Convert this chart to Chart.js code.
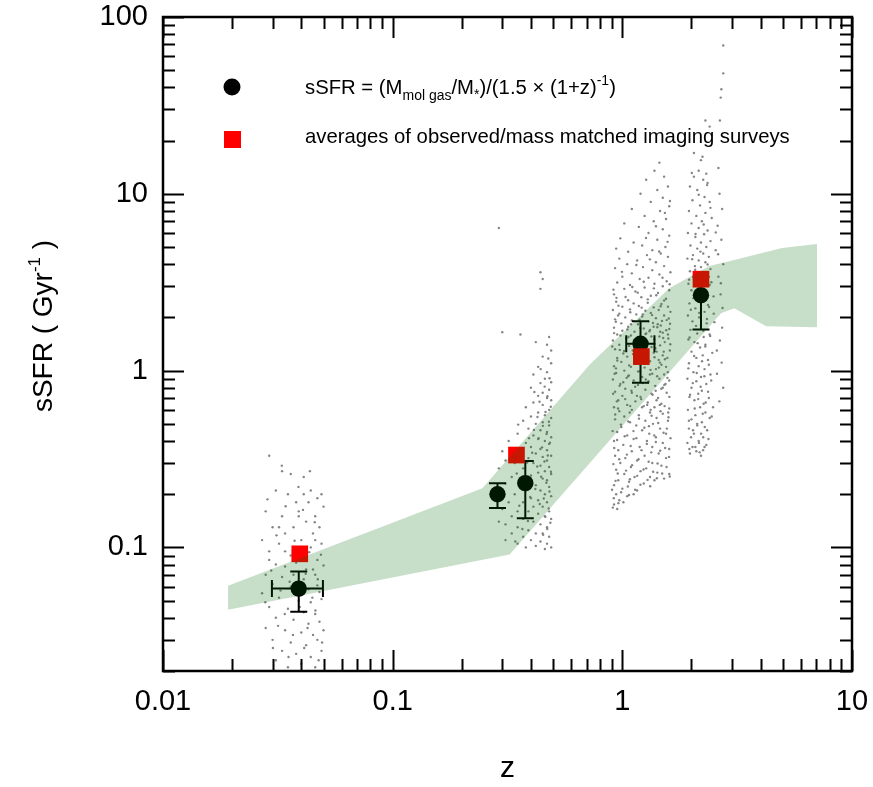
<!DOCTYPE html>
<html>
<head>
<meta charset="utf-8">
<script src="https://cdn.jsdelivr.net/npm/chart.js@4.4.1/dist/chart.umd.min.js"></script>
<style>
  html, body { margin: 0; padding: 0; background: #fff; }
  #wrap { width: 873px; height: 787px; }
</style>
</head>
<body>
<div id="wrap"><canvas id="chart" width="873" height="787"></canvas></div>
<script>
const FONT = "'Liberation Sans', Arial, Helvetica, sans-serif";

// Axis tick labels
const xTicks = [0.01, 0.1, 1, 10];
const yTicks = [0.1, 1, 10, 100];

// sSFR from molecular gas fractions (black circles) with error ranges
const circleZ   = [0.039, 0.286, 0.378, 1.2, 2.2];
const circleS   = [0.0585, 0.2, 0.231, 1.42, 2.67];
const circleSLo = [0.0433, 0.167, 0.146, 0.855, 1.71];
const circleSHi = [0.073, 0.231, 0.308, 1.9, 3.4];
const circleZLo = [0.0298, null, null, 1.04, null];
const circleZHi = [0.0497, null, null, 1.38, null];

// survey averages (red squares)
const squareZ = [0.0394, 0.346, 1.21, 2.2];
const squareS = [0.092, 0.333, 1.2, 3.29];

// shaded band: upper edge left->right, lower edge right->left
const bandUpperZ = [0.0192, 0.246, 0.72, 1.6, 2.39, 2.92, 4.96, 7.04];
const bandUpperS = [0.0608, 0.216, 1.08, 2.92, 3.9, 4.16, 4.93, 5.2];
const bandLowerZ = [7.04, 4.23, 3.07, 2.69, 0.323, 0.0192];
const bandLowerS = [1.76, 1.78, 2.25, 2.11, 0.0912, 0.0444];

// individual galaxies, [z, sSFR]
const localDots = [
  [0.029,0.33],[0.033,0.27],[0.036,0.26],[0.041,0.25],[0.044,0.21],[0.047,0.19],[0.031,0.21],[0.035,0.2],
  [0.038,0.18],[0.043,0.18],[0.049,0.2],[0.05,0.17],[0.028,0.16],[0.033,0.15],[0.039,0.15],[0.042,0.14],
  [0.046,0.15],[0.03,0.13],[0.034,0.12],[0.037,0.13],[0.045,0.12],[0.048,0.13],[0.027,0.11],[0.032,0.105],
  [0.04,0.11],[0.044,0.1],[0.049,0.105],[0.029,0.095],[0.036,0.09],[0.042,0.088],[0.047,0.085],[0.031,0.08],
  [0.034,0.078],[0.038,0.082],[0.045,0.075],[0.05,0.079],[0.028,0.07],[0.033,0.068],[0.041,0.066],[0.046,0.07],
  [0.03,0.062],[0.036,0.06],[0.043,0.058],[0.048,0.056],[0.027,0.055],[0.032,0.052],[0.039,0.05],[0.044,0.049],
  [0.049,0.051],[0.029,0.046],[0.035,0.045],[0.041,0.043],[0.046,0.042],[0.031,0.04],[0.037,0.039],[0.043,0.037],
  [0.048,0.038],[0.028,0.035],[0.034,0.034],[0.04,0.033],[0.045,0.032],[0.05,0.034],[0.03,0.03],[0.036,0.029],
  [0.042,0.028],[0.047,0.03],[0.033,0.026],[0.038,0.025],[0.044,0.024],[0.049,0.026],[0.031,0.023],[0.04,0.022],
  [0.046,0.021],[0.035,0.021],[0.043,0.02],[0.039,0.16],[0.041,0.2],[0.034,0.095],[0.046,0.11],[0.037,0.07],
  [0.032,0.13],[0.047,0.061],[0.029,0.085],[0.042,0.075],
  [0.0285,0.187],[0.0342,0.171],[0.0407,0.163],[0.0458,0.139],[0.0312,0.117],[0.0374,0.109],[0.0433,0.094],
  [0.0487,0.091],[0.0296,0.074],[0.0356,0.064],[0.0418,0.071],[0.0472,0.066],[0.0325,0.057],[0.0383,0.054],
  [0.0447,0.052],[0.0279,0.049],[0.0339,0.042],[0.0394,0.046],[0.0461,0.044],[0.0317,0.036],[0.0368,0.032],
  [0.0426,0.035],[0.0493,0.029],[0.0301,0.027],[0.0352,0.024],[0.0412,0.027],[0.0476,0.023],[0.0389,0.22],
  [0.0436,0.27],[0.0329,0.29]
];

const midDots = [
  [0.29,6.4],[0.3,1.65],[0.36,1.6],
  [0.44,3.6],[0.45,3.3],[0.44,2.9],[0.48,1.55],[0.47,1.4],[0.49,1.3],[0.42,1.45],[0.45,1.2],[0.49,1.1],
  [0.43,1.05],[0.47,0.98],[0.41,0.95],[0.46,0.9],[0.49,0.86],[0.44,0.85],[0.4,0.8],[0.48,0.78],[0.45,0.75],
  [0.43,0.72],[0.47,0.7],[0.49,0.68],[0.41,0.66],[0.45,0.64],[0.38,0.62],[0.48,0.6],[0.43,0.58],[0.46,0.56],
  [0.4,0.55],[0.49,0.54],
  [0.37,0.52],[0.42,0.5],[0.45,0.51],[0.48,0.49],[0.39,0.47],[0.44,0.46],[0.47,0.45],[0.35,0.44],[0.41,0.43],
  [0.49,0.42],[0.43,0.41],[0.46,0.4],[0.38,0.39],[0.48,0.385],[0.4,0.37],[0.44,0.36],[0.47,0.355],[0.36,0.35],
  [0.42,0.34],[0.49,0.33],[0.45,0.325],[0.39,0.32],[0.47,0.31],[0.34,0.3],[0.41,0.3],[0.44,0.29],[0.48,0.285],
  [0.37,0.28],[0.46,0.27],[0.43,0.265],[0.49,0.26],[0.4,0.255],[0.33,0.25],[0.45,0.245],[0.47,0.24],
  [0.31,0.23],[0.36,0.23],[0.42,0.225],[0.48,0.22],[0.38,0.21],[0.44,0.21],[0.3,0.2],[0.34,0.2],[0.46,0.2],
  [0.49,0.195],[0.4,0.19],[0.43,0.185],[0.32,0.18],[0.37,0.18],[0.47,0.18],[0.45,0.17],[0.41,0.17],[0.3,0.165],
  [0.35,0.16],[0.39,0.16],[0.48,0.16],[0.43,0.155],[0.46,0.15],[0.33,0.15],[0.37,0.145],[0.41,0.14],[0.49,0.145],
  [0.44,0.135],[0.31,0.135],[0.35,0.13],[0.47,0.13],[0.39,0.125],[0.42,0.12],[0.45,0.12],[0.33,0.12],[0.37,0.115],
  [0.48,0.115],[0.4,0.11],[0.44,0.108],[0.31,0.11],[0.35,0.105],[0.47,0.105],[0.42,0.102],[0.38,0.1],[0.46,0.098],
  [0.49,0.1],[0.29,0.28],[0.3,0.35],[0.32,0.4],[0.29,0.14],[0.31,0.31],
  [0.452,0.118],[0.471,0.127],[0.486,0.138],[0.462,0.149],[0.478,0.166],[0.437,0.176],[0.455,0.189],[0.482,0.207],
  [0.418,0.214],[0.467,0.232],[0.443,0.251],[0.489,0.268],[0.426,0.287],[0.458,0.306],[0.474,0.331],[0.405,0.343],
  [0.447,0.368],[0.484,0.391],[0.432,0.415],[0.468,0.438],[0.412,0.462],[0.451,0.487],[0.479,0.514],[0.427,0.547],
  [0.463,0.583],[0.488,0.624],[0.436,0.667],[0.472,0.716],[0.414,0.757],[0.459,0.812],[0.482,0.905],[0.441,1.02],
  [0.476,1.17],[0.342,0.108],[0.367,0.127],[0.388,0.141],[0.356,0.172],[0.397,0.193],[0.375,0.218],[0.347,0.262],
  [0.385,0.302],[0.363,0.356],[0.392,0.415],[0.352,0.495]
];

const z1Dots = [
  [1.45,15],[1.38,13.5],[1.52,12.5],[1.27,12],[1.58,11],[1.42,10.5],[1.2,10],[1.5,9.5],[1.33,9],[1.6,8.5],
  [1.1,8.2],[1.46,8],[1.25,7.5],[1.55,7.2],[1.37,7],[1.02,6.8],[1.18,6.5],[1.5,6.3],[1.3,6],[1.6,5.8],
  [0.98,5.6],[1.42,5.5],[1.12,5.3],[1.22,5.1],[1.54,5],[0.94,4.9],[1.35,4.8],[1.06,4.7],
  [1.47,4.6],[1.28,4.5],[1.58,4.4],[0.97,4.3],[1.16,4.2],[1.4,4.1],[1.05,4],[1.52,3.9],[1.23,3.85],[0.93,3.8],
  [1.35,3.7],[1.62,3.6],[1.1,3.55],[1.45,3.5],[1.0,3.4],[1.3,3.35],[1.19,3.3],[1.56,3.2],[0.95,3.15],[1.38,3.1],
  [1.08,3.05],[1.5,3.0],[1.25,2.95],[1.02,2.9],[1.6,2.85],[1.14,2.8],[1.43,2.75],[0.92,2.7],[1.33,2.65],[1.21,2.6],
  [1.55,2.55],[1.06,2.5],
  [0.94,2.45],[1.12,2.4],[1.29,2.42],[1.48,2.38],[1.0,2.3],[1.18,2.32],[1.37,2.28],[1.58,2.3],[0.91,2.2],[1.08,2.22],
  [1.26,2.18],[1.44,2.2],[1.62,2.15],[0.97,2.1],[1.15,2.08],[1.33,2.12],[1.52,2.05],[1.03,2.0],[1.22,2.02],[1.4,1.98],
  [0.93,1.95],[1.1,1.92],[1.3,1.9],[1.56,1.93],[0.99,1.85],[1.17,1.83],[1.36,1.86],[1.47,1.8],[0.92,1.75],[1.06,1.77],
  [1.24,1.73],[1.42,1.76],[1.6,1.72],[1.0,1.68],[1.13,1.66],[1.32,1.7],[1.5,1.64],[0.95,1.6],[1.09,1.58],[1.27,1.62],
  [1.45,1.56],[1.58,1.6],[1.04,1.52],[1.2,1.54],[1.38,1.5],
  [0.91,1.48],[1.15,1.46],[1.29,1.44],[1.53,1.45],[0.97,1.4],[1.07,1.38],[1.34,1.36],[1.46,1.39],[0.93,1.32],[1.11,1.3],
  [1.23,1.33],[1.41,1.28],[1.61,1.3],[1.01,1.25],[1.18,1.23],[1.37,1.26],[1.5,1.22],[0.95,1.18],[1.05,1.2],[1.28,1.17],
  [1.44,1.15],[1.57,1.18],[0.99,1.12],[1.14,1.1],[1.32,1.13],[1.48,1.08],[0.92,1.06],[1.09,1.05],[1.25,1.04],[1.4,1.02],
  [1.55,1.05],[1.02,1.0],[1.19,0.99],
  [0.94,0.97],[1.35,0.96],[1.52,0.95],[1.06,0.93],[1.22,0.92],[1.45,0.9],[0.91,0.89],[1.12,0.88],[1.3,0.87],[1.6,0.88],
  [0.98,0.84],[1.17,0.83],[1.39,0.82],[1.5,0.8],[1.03,0.79],[1.26,0.78],[0.93,0.76],[1.1,0.75],[1.34,0.74],[1.56,0.75],
  [1.0,0.72],[1.2,0.71],[1.43,0.7],[0.96,0.68],[1.14,0.67],[1.29,0.66],[1.48,0.65],[1.05,0.64],[1.24,0.63],[1.38,0.62],
  [0.92,0.62],[1.6,0.61],[1.1,0.6],
  [0.97,0.59],[1.32,0.58],[1.5,0.57],[1.18,0.56],[1.02,0.55],[1.41,0.54],[0.93,0.53],[1.26,0.52],[1.58,0.52],[1.08,0.51],
  [1.36,0.5],[1.15,0.49],[0.99,0.48],[1.46,0.47],[1.22,0.46],[0.95,0.45],[1.31,0.44],[1.55,0.44],[1.05,0.43],[1.4,0.42],
  [1.12,0.41],[0.92,0.4],[1.28,0.4],[1.5,0.39],[1.01,0.38],[1.19,0.37],[1.35,0.37],[1.6,0.36],[0.96,0.355],[1.1,0.35],
  [1.44,0.34],[1.25,0.33],[0.93,0.33],[1.03,0.32],[1.55,0.32],[1.16,0.31],[1.35,0.3],[0.98,0.3],[1.48,0.29],[1.09,0.285],
  [1.27,0.28],[0.94,0.275],[1.2,0.27],[1.42,0.265],[1.02,0.26],[1.6,0.26],[1.13,0.25],[1.32,0.25],[0.96,0.24],[1.52,0.245],
  [1.07,0.235],[1.24,0.23],[0.92,0.225],[1.38,0.24],[1.0,0.215],[1.16,0.21],[0.94,0.2],[1.05,0.195],[1.12,0.2],[0.97,0.185],
  [0.92,0.175],[1.01,0.18],[0.95,0.165],
  [0.915,2.87],[1.033,2.61],[1.167,2.76],[1.291,2.53],[1.405,2.67],[1.521,2.49],[0.962,2.33],[1.083,2.14],[1.214,2.27],
  [1.347,2.06],[1.468,2.31],[1.593,1.97],[0.937,1.89],[1.052,1.71],[1.188,1.94],[1.312,1.67],[1.426,1.83],[1.552,1.69],
  [0.981,1.58],[1.124,1.49],[1.262,1.61],[1.383,1.42],[1.507,1.53],[1.617,1.41],[0.904,1.37],[1.018,1.29],[1.146,1.41],
  [1.273,1.21],[1.392,1.34],[1.533,1.16],[0.951,1.14],[1.071,1.07],[1.203,1.19],[1.326,1.01],[1.457,1.11],[1.578,0.98],
  [0.926,0.96],[1.044,0.91],[1.171,0.99],[1.297,0.86],[1.418,0.93],[1.541,0.84],[0.973,0.82],[1.096,0.77],[1.228,0.85],
  [1.354,0.73],[1.479,0.79],[1.602,0.71],[0.912,0.74],[1.029,0.69],[1.158,0.72],[1.283,0.64],[1.409,0.68],[1.528,0.63],
  [0.958,0.61],[1.077,0.58],[1.219,0.62],[1.341,0.555],[1.466,0.59],[1.589,0.545],[0.931,0.565],[1.061,0.515],[1.182,0.535],
  [1.306,0.485],[1.433,0.505],[1.563,0.47],[0.986,0.495],[1.118,0.455],[1.247,0.475],[1.377,0.43],[1.512,0.445],[1.621,0.415],
  [0.907,0.455],[1.024,0.425],[1.151,0.415],[1.278,0.385],[1.399,0.395],[1.536,0.365],[0.949,0.405],[1.087,0.375],[1.212,0.355],
  [1.336,0.345],[1.461,0.352],[1.597,0.325],[0.922,0.365],[1.047,0.335],[1.176,0.315],[1.302,0.305],[1.424,0.298],[1.558,0.285],
  [0.969,0.315],[1.103,0.292],[1.236,0.276],[1.362,0.268],[1.491,0.262],[1.609,0.252],[0.914,0.296],[1.038,0.272],[1.161,0.254],
  [1.288,0.241],[1.414,0.246],[0.955,0.262],[1.079,0.243],[1.199,0.226],[1.322,0.222],[0.934,0.238],[1.057,0.221],[1.137,0.212],
  [0.902,0.212],[0.988,0.205],[1.069,0.198],[0.918,0.19],[0.961,0.178],[0.909,0.168],
  [0.943,2.58],[1.105,2.97],[1.239,3.18],[1.372,2.92],[1.496,3.35],[1.607,3.08],[0.996,3.62],[1.151,3.96],[1.318,4.26],
  [1.447,4.72],[1.574,5.35],[1.268,5.62],[1.401,6.55],[1.532,7.8],[1.612,9.1],[0.958,2.05],[1.091,1.83],[1.227,2.08],
  [1.368,1.77],[1.488,1.91],[1.613,1.84],[0.921,1.63],[1.064,1.55],[1.196,1.74],[1.338,1.56],[1.461,1.66],[1.586,1.52],
  [0.975,1.31],[1.112,1.24],[1.249,1.36],[1.381,1.19],[1.514,1.28],[0.938,1.03],[1.067,0.94],[1.192,1.09],[1.318,0.95],
  [1.442,1.04],[1.571,0.91],[1.009,0.86],[1.137,0.81],[1.265,0.89],[1.397,0.77],[1.523,0.83],[0.947,0.67],[1.082,0.63],
  [1.208,0.69],[1.329,0.6],[1.456,0.64],[1.584,0.58]
];

const z2Dots = [
  [2.75,69],[2.75,48],[2.7,39],[2.68,35],[2.3,26],[2.4,24],[2.66,26],[2.05,17],[2.2,15.5],[2.62,14],[2.15,13.5],[2.32,13],
  [2.05,12.5],[2.25,12],[1.97,11],[2.35,11.5],[2.12,10.5],[2.65,10],[2.28,9.6],[2.02,9.2],[2.4,9],[2.18,8.6],[2.72,8.2],
  [1.95,8],[2.3,7.8],[2.1,7.5],[2.45,7.3],[2.22,7],[2.0,6.8],[2.6,6.6],[2.15,6.4],[2.35,6.2],[1.93,6],[2.27,5.9],
  [2.08,5.7],[2.7,5.5],[2.42,5.4],[2.2,5.3],[1.98,5.1],[2.32,5],[2.12,4.9],[2.55,4.8],
  [2.25,4.6],[2.03,4.5],[2.38,4.4],[1.92,4.3],[2.15,4.2],[2.3,4.1],[2.75,4.0],[2.07,3.9],[2.2,3.85],[2.42,3.75],
  [1.97,3.65],[2.12,3.55],[2.33,3.5],[2.62,3.4],[2.05,3.3],[2.25,3.2],[1.94,3.1],[2.4,3.05],[2.17,2.95],[2.0,2.85],
  [2.3,2.75],[2.68,2.7],[2.1,2.6],[2.22,2.5],[1.96,2.4],[2.36,2.35],[2.08,2.25],[2.28,2.15],[2.5,2.1],[1.93,2.05],
  [2.16,2.0],[2.02,1.9],[2.33,1.85],[2.2,1.8],[2.72,1.75],[1.98,1.7],[2.12,1.62],[2.4,1.6],[2.26,1.55],[1.94,1.5],
  [2.06,1.45],[2.3,1.4],[2.18,1.35],[2.58,1.3],[2.0,1.28],[2.24,1.22],[2.1,1.18],[2.36,1.15],[1.95,1.1],[2.15,1.06],
  [2.28,1.02],[2.04,0.98],[2.42,0.95],[2.2,0.92],[1.92,0.9],[2.1,0.87],[2.32,0.84],[2.75,0.8],[2.0,0.8],[2.22,0.77],
  [2.14,0.74],[1.96,0.71],[2.38,0.7],[2.06,0.68],[2.26,0.65],[2.18,0.62],[1.93,0.6],[2.3,0.58],[2.08,0.56],[2.45,0.55],
  [2.0,0.53],[2.22,0.51],[2.12,0.49],[1.95,0.47],[2.34,0.46],[2.05,0.44],[2.25,0.42],[2.15,0.4],[1.92,0.39],[2.02,0.37],
  [2.28,0.37],[2.1,0.35],[1.97,0.34],[2.2,0.33],
  [2.013,4.27],[2.187,4.71],[2.351,3.98],[2.076,3.72],[2.268,3.44],[2.442,3.16],[1.954,3.27],[2.134,2.91],[2.318,2.82],
  [2.495,2.63],[2.042,2.57],[2.211,2.44],[2.387,2.29],[1.987,2.21],[2.163,2.12],[2.336,1.96],[2.518,1.88],[2.094,1.79],
  [2.253,1.68],[2.412,1.57],[1.962,1.54],[2.128,1.43],[2.297,1.37],[2.464,1.26],[2.054,1.21],[2.224,1.13],[2.381,1.08],
  [1.939,1.03],[2.109,0.97],[2.276,0.93],[2.438,0.88],[2.027,0.85],[2.193,0.81],[2.362,0.76],[1.972,0.73],[2.141,0.69],
  [2.307,0.66],[2.483,0.62],[2.066,0.61],[2.239,0.57],[2.402,0.54],[1.949,0.52],[2.118,0.5],[2.285,0.48],[2.032,0.46],
  [2.203,0.44],[2.371,0.41],[1.991,0.42],[2.156,0.39],[2.321,0.38],[2.079,0.37],[2.247,0.355],[1.958,0.36],[2.171,0.345],
  [2.084,5.93],[2.261,6.71],[2.419,8.33],[2.151,9.87],[2.339,11.2],[2.008,13.1],[2.233,16.2],[2.552,6.05],[2.612,4.55],
  [2.684,3.12],[2.731,2.26],[2.66,1.48],[2.708,1.11],[2.583,0.96],[2.645,0.67]
];

// build point lists for Chart.js
const toXY = (zs, ss) => zs.map((z, i) => ({ x: z, y: ss[i] }));
const bandPoints = toXY(bandUpperZ, bandUpperS).concat(toXY(bandLowerZ, bandLowerS));
const dotPoints = [].concat(localDots, midDots, z1Dots, z2Dots).map(p => ({ x: p[0], y: p[1] }));
const CIRCLE_INDEX = 2;

// draw a run of text pieces with sub/superscript offsets, starting at x
function drawRich(ctx, parts, x, y) {
  parts.forEach(p => {
    ctx.font = p.size + 'px ' + FONT;
    ctx.fillText(p.t, x, y + p.dy);
    x += ctx.measureText(p.t).width;
  });
  return x;
}
function richWidth(ctx, parts) {
  return parts.reduce((w, p) => { ctx.font = p.size + 'px ' + FONT; return w + ctx.measureText(p.t).width; }, 0);
}

// error bars go on right after the circles, so squares and band sit on top
const errorBars = {
  id: 'errorBars',
  afterDatasetDraw(chart, args) {
    if (args.index !== CIRCLE_INDEX) return;
    const { ctx, scales: { x, y } } = chart;
    const cap = 8.5;
    ctx.save();
    ctx.strokeStyle = '#000';
    ctx.lineWidth = 2;
    ctx.beginPath();
    circleZ.forEach((z, i) => {
      const px = x.getPixelForValue(z), py = y.getPixelForValue(circleS[i]);
      const lo = y.getPixelForValue(circleSLo[i]), hi = y.getPixelForValue(circleSHi[i]);
      ctx.moveTo(px, lo); ctx.lineTo(px, hi);
      ctx.moveTo(px - cap, lo); ctx.lineTo(px + cap, lo);
      ctx.moveTo(px - cap, hi); ctx.lineTo(px + cap, hi);
      if (circleZLo[i] !== null) {
        const l = x.getPixelForValue(circleZLo[i]), r = x.getPixelForValue(circleZHi[i]);
        ctx.moveTo(l, py); ctx.lineTo(r, py);
        ctx.moveTo(l, py - cap); ctx.lineTo(l, py + cap);
        ctx.moveTo(r, py - cap); ctx.lineTo(r, py + cap);
      }
    });
    ctx.stroke();
    ctx.restore();
  }
};

// frame, inward log ticks on all four sides, legend and y title
const decorations = {
  id: 'decorations',
  afterDraw(chart) {
    const { ctx, chartArea: a, scales: { x, y } } = chart;
    ctx.save();
    ctx.strokeStyle = '#000';
    ctx.lineWidth = 2.5;
    ctx.strokeRect(a.left, a.top, a.right - a.left, a.bottom - a.top);

    ctx.lineWidth = 2;
    ctx.beginPath();
    for (let e = -2; e <= 2; e++) {
      for (let m = 1; m <= 9; m++) {
        const v = m * Math.pow(10, e);
        const len = m === 1 ? 21 : 12;
        if (v >= x.min * 0.999 && v <= x.max * 1.001) {
          const px = Math.round(x.getPixelForValue(v)) + 0.5;
          ctx.moveTo(px, a.bottom); ctx.lineTo(px, a.bottom - len);
          ctx.moveTo(px, a.top); ctx.lineTo(px, a.top + len);
        }
        if (v >= y.min * 0.999 && v <= y.max * 1.001) {
          const py = Math.round(y.getPixelForValue(v)) + 0.5;
          ctx.moveTo(a.left, py); ctx.lineTo(a.left + len, py);
          ctx.moveTo(a.right, py); ctx.lineTo(a.right - len, py);
        }
      }
    }
    ctx.stroke();

    // legend
    ctx.fillStyle = '#000';
    ctx.beginPath();
    ctx.arc(232, 87, 8.5, 0, Math.PI * 2);
    ctx.fill();
    ctx.fillStyle = '#ff0000';
    ctx.fillRect(224, 131, 17, 17);

    ctx.fillStyle = '#000';
    ctx.textAlign = 'left';
    ctx.textBaseline = 'alphabetic';
    drawRich(ctx, [
      { t: 'sSFR = (M', size: 20.3, dy: 0 },
      { t: 'mol gas', size: 14, dy: 6 },
      { t: '/M', size: 20.3, dy: 0 },
      { t: '*', size: 14, dy: 5 },
      { t: ')/(1.5 \u00d7 (1+z)', size: 20.3, dy: 0 },
      { t: '-1', size: 14, dy: -9 },
      { t: ')', size: 20.3, dy: 0 }
    ], 305, 94);
    drawRich(ctx, [{ t: 'averages of observed/mass matched imaging surveys', size: 20.3, dy: 0 }], 305, 143);

    // y axis title, rotated
    const title = [
      { t: 'sSFR ( Gyr', size: 28, dy: 0 },
      { t: '-1', size: 17, dy: -12 },
      { t: ' )', size: 28, dy: 0 }
    ];
    ctx.translate(52, 326);
    ctx.rotate(-Math.PI / 2);
    drawRich(ctx, title, -richWidth(ctx, title) / 2, 0);
    ctx.restore();
  }
};

new Chart(document.getElementById('chart'), {
  type: 'scatter',
  data: {
    datasets: [
      {
        type: 'line',
        data: bandPoints,
        fill: 'shape',
        backgroundColor: 'rgba(0, 105, 10, 0.22)',
        borderColor: 'rgba(0,0,0,0)',
        borderWidth: 0,
        pointRadius: 0,
        tension: 0
      },
      {
        data: toXY(squareZ, squareS),
        pointStyle: 'rect',
        pointRadius: 11.8,
        backgroundColor: '#ff0000',
        borderWidth: 0
      },
      {
        data: toXY(circleZ, circleS),
        pointStyle: 'circle',
        pointRadius: 8.2,
        backgroundColor: '#000000',
        borderWidth: 0
      },
      {
        data: dotPoints,
        pointStyle: 'circle',
        pointRadius: 1.2,
        backgroundColor: '#858585',
        borderWidth: 0
      }
    ]
  },
  options: {
    responsive: false,
    animation: false,
    events: [],
    layout: { padding: { left: 0, right: 21, top: 17, bottom: 0 } },
    plugins: { legend: { display: false }, tooltip: { enabled: false } },
    scales: {
      x: {
        type: 'logarithmic',
        position: 'bottom',
        min: 0.01,
        max: 10,
        afterBuildTicks: s => { s.ticks = xTicks.map(v => ({ value: v })); },
        afterFit: s => { s.height = 116; s.paddingLeft = 0; s.paddingRight = 0; },
        grid: { display: false, drawTicks: false },
        border: { display: false },
        ticks: {
          color: '#000',
          font: { family: FONT, size: 29 },
          padding: 14,
          maxRotation: 0,
          autoSkip: false,
          callback: v => String(v)
        },
        title: {
          display: true,
          text: 'z',
          color: '#000',
          font: { family: FONT, size: 30 },
          padding: { top: 0, bottom: 0 }
        }
      },
      y: {
        type: 'logarithmic',
        min: 0.02,
        max: 100,
        afterBuildTicks: s => { s.ticks = yTicks.map(v => ({ value: v })); },
        afterFit: s => { s.width = 163; s.paddingTop = 0; s.paddingBottom = 0; },
        grid: { display: false, drawTicks: false },
        border: { display: false },
        ticks: {
          color: '#000',
          font: { family: FONT, size: 29 },
          padding: 15,
          autoSkip: false,
          callback: v => String(v)
        }
      }
    }
  },
  plugins: [errorBars, decorations]
});
</script>
</body>
</html>
